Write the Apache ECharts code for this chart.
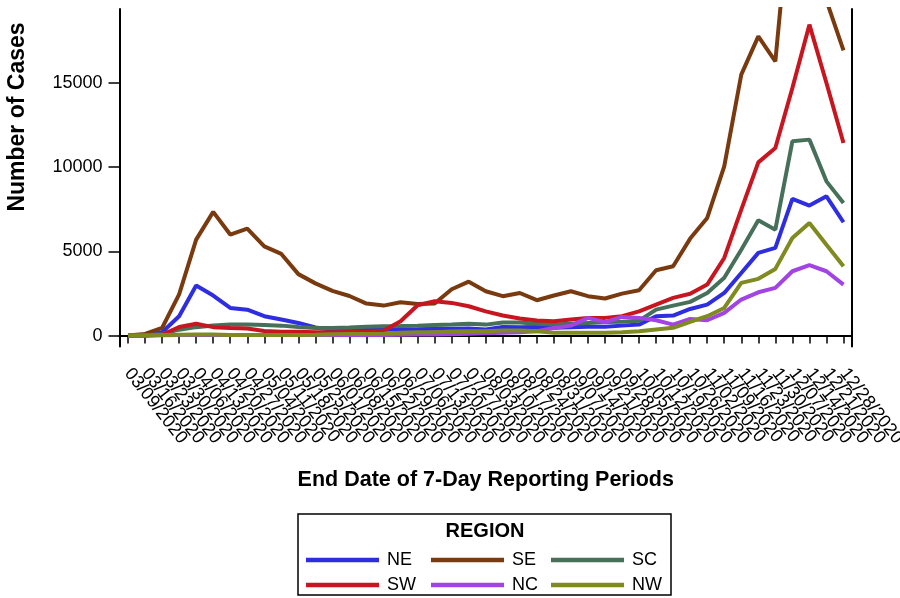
<!DOCTYPE html>
<html>
<head>
<meta charset="utf-8">
<script src="https://cdn.jsdelivr.net/npm/echarts@6/dist/echarts.min.js"></script>
<style>
html,body{margin:0;padding:0;background:#fff;}
#chart{width:900px;height:598px;}
</style>
</head>
<body>
<div id="chart"></div>
<script>
var categories = ['03/09/2020','03/16/2020','03/23/2020','03/30/2020','04/06/2020','04/13/2020','04/20/2020','04/27/2020',
  '05/04/2020','05/11/2020','05/18/2020','05/25/2020','06/01/2020','06/08/2020','06/15/2020','06/22/2020','06/29/2020',
  '07/06/2020','07/13/2020','07/20/2020','07/27/2020','08/03/2020','08/10/2020','08/17/2020','08/24/2020','08/31/2020',
  '09/07/2020','09/14/2020','09/21/2020','09/28/2020','10/05/2020','10/12/2020','10/19/2020','10/26/2020',
  '11/02/2020','11/09/2020','11/16/2020','11/23/2020','11/30/2020','12/07/2020','12/14/2020','12/21/2020','12/28/2020'];

var NE = [0,0,200,1150,2970,2375,1640,1540,1150,950,750,480,350,330,330,340,360,370,400,400,420,360,510,490,510,460,
  490,530,530,590,650,1150,1190,1580,1840,2530,3720,4910,5210,8120,7720,8270,6730];
var SE = [0,100,450,2450,5700,7350,6000,6350,5300,4850,3650,3100,2650,2350,1900,1780,1980,1880,1900,2750,3200,2630,
  2340,2530,2100,2380,2630,2340,2200,2490,2690,3880,4120,5760,6990,10050,15500,17770,16290,27000,25000,19900,16940];
var SC = [0,0,100,350,500,600,650,650,620,590,510,450,450,480,520,560,570,590,630,660,700,650,770,770,700,650,
  700,750,800,820,880,1540,1780,2000,2530,3430,5100,6850,6290,11540,11640,9160,7880];
var SW = [0,0,50,510,700,500,450,420,270,230,220,200,200,210,220,280,850,1800,2040,1940,1740,1440,1190,1010,890,850,
  950,1050,1050,1150,1440,1840,2240,2480,3030,4610,7480,10290,11140,14710,18470,15000,11440];
var NC = [0,0,20,30,40,40,30,30,30,30,30,40,40,40,40,40,50,60,70,80,100,130,160,200,260,450,
  590,1050,790,1110,1050,910,650,990,910,1350,2140,2570,2830,3820,4180,3820,3030];
var NW = [0,0,30,50,60,60,40,30,30,30,40,50,80,100,100,110,160,200,200,240,260,260,300,300,260,160,
  160,160,170,200,260,360,460,820,1150,1640,3130,3370,3960,5800,6690,5400,4120];

var yTicks = [0, 5000, 10000, 15000];
var regionNames = ['NE','SE','SC','SW','NC','NW'];
var regionData = [NE, SE, SC, SW, NC, NW];
var regionColors = ['#2E2EE0','#7A3A10','#46705A','#C81620','#A244E4','#7F8A20'];

var FONT = '"Liberation Sans", Arial, sans-serif';

var series = regionNames.map(function(n, k){
  return {
    name: n, type: 'line', data: regionData[k], symbol: 'none', showSymbol: false,
    lineStyle: {color: regionColors[k], width: 4}, itemStyle: {color: regionColors[k]},
    clip: true, animation: false
  };
});

var legendLefts = [306, 431, 551];
var legendTops = [551, 576];
var legends = regionNames.map(function(n, k){
  return {
    data: [n], left: legendLefts[k % 3], top: legendTops[Math.floor(k / 3)],
    icon: 'rect', itemWidth: 73, itemHeight: 4.5, padding: 0,
    textStyle: {fontFamily: FONT, fontSize: 18, color: '#000', padding: [0, 0, 0, 3]},
    selectedMode: false
  };
});

var chart = echarts.init(document.getElementById('chart'), null, {renderer: 'canvas'});
chart.setOption({
  animation: false,
  backgroundColor: '#fff',
  textStyle: {fontFamily: FONT},
  grid: {left: 119.5, right: 48, top: 9, bottom: 251.5, containLabel: false, outerBoundsMode: 'none'},
  title: {
    text: 'REGION', left: 485, top: 521, textAlign: 'center', padding: 0,
    textStyle: {fontFamily: FONT, fontSize: 20, fontWeight: 'bold', color: '#000'}
  },
  legend: legends,
  graphic: [
    {type: 'rect', shape: {x: 298, y: 514, width: 373, height: 81}, style: {fill: 'none', stroke: '#000', lineWidth: 1.5}, silent: true},
    {type: 'text', x: 18, y: 117, rotation: Math.PI / 2,
     style: {text: 'Number of Cases', fontFamily: FONT, fontSize: 23, fontWeight: 'bold', fill: '#000', align: 'center', verticalAlign: 'middle'}}
  ],
  xAxis: {
    type: 'category', data: categories, boundaryGap: true,
    name: 'End Date of 7-Day Reporting Periods', nameLocation: 'middle', nameGap: 123,
    nameTextStyle: {fontFamily: FONT, fontSize: 21.5, fontWeight: 'bold', color: '#000'},
    axisLine: {show: true, lineStyle: {color: '#000', width: 2}},
    axisTick: {show: true, interval: 0, alignWithLabel: true, length: 8, lineStyle: {color: '#000', width: 1.5}},
    axisLabel: {interval: 0, rotate: -52, margin: 24, fontFamily: FONT, fontSize: 18, color: '#000'},
    splitLine: {show: false}
  },
  yAxis: [{
    type: 'value', min: -650, max: 19400,
    axisLine: {show: true, lineStyle: {color: '#000', width: 2}},
    axisTick: {show: true, length: 11, customValues: yTicks, lineStyle: {color: '#000', width: 1.5}},
    axisLabel: {customValues: yTicks, margin: 17, fontFamily: FONT, fontSize: 18, color: '#000',
      formatter: function(v){ return String(v); }},
    splitLine: {show: false}
  }, {
    type: 'value', min: -650, max: 19400, position: 'right',
    axisLine: {show: true, lineStyle: {color: '#000', width: 2}},
    axisTick: {show: false}, axisLabel: {show: false}, splitLine: {show: false}
  }],
  series: series
});
</script>
</body>
</html>
